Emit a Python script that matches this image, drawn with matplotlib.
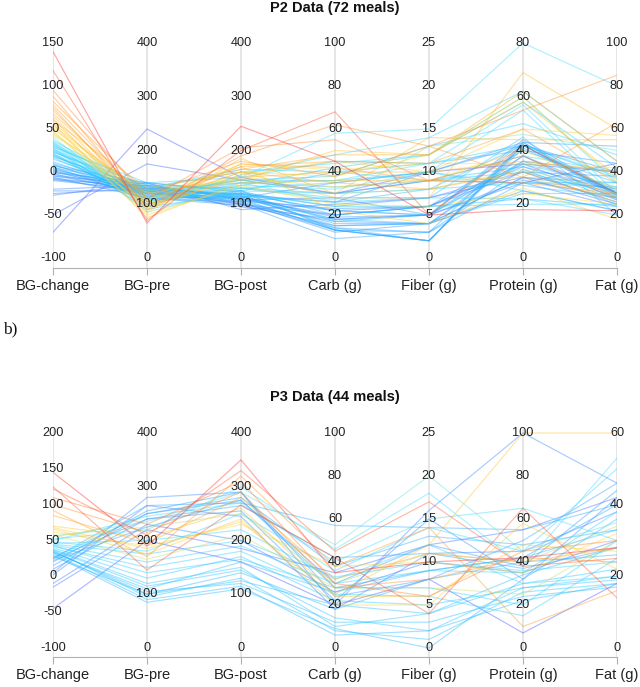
import matplotlib
matplotlib.use("Agg")
import matplotlib.pyplot as plt
from matplotlib.colors import LinearSegmentedColormap, Normalize
import numpy as np

categories = ["BG-change", "BG-pre", "BG-post", "Carb (g)", "Fiber (g)", "Protein (g)", "Fat (g)"]

# ---- P2 data: [BG-change, BG-pre, BG-post, Carb, Fiber, Protein, Fat]
p2_title = "P2 Data (72 meals)"
p2_ranges = [(-100, 150), (0, 400), (0, 400), (0, 100), (0, 25), (0, 80), (0, 100)]
p2_ticks = [[-100, -50, 0, 50, 100, 150], [0, 100, 200, 300, 400], [0, 100, 200, 300, 400],
            [0, 20, 40, 60, 80, 100], [0, 5, 10, 15, 20, 25], [0, 20, 40, 60, 80],
            [0, 20, 40, 60, 80, 100]]
p2_meals = [
    [140, 65, 245, 45, 5, 18, 22],
    [118, 70, 200, 68, 5, 42, 30],
    [95, 110, 205, 55, 9, 38, 28],
    [88, 95, 190, 62, 13, 55, 85],
    [82, 120, 180, 38, 13, 30, 63],
    [78, 105, 170, 45, 11, 48, 35],
    [75, 90, 175, 42, 9, 28, 30],
    [72, 100, 160, 35, 8, 32, 26],
    [68, 110, 165, 48, 12, 62, 45],
    [65, 95, 150, 40, 10, 36, 40],
    [62, 85, 185, 30, 14, 44, 55],
    [60, 130, 160, 28, 7, 69, 60],
    [58, 100, 145, 50, 12, 58, 38],
    [56, 75, 140, 36, 9, 30, 28],
    [54, 115, 170, 22, 4, 26, 18],
    [52, 90, 155, 45, 10, 48, 57],
    [50, 120, 150, 33, 9, 40, 32],
    [48, 80, 135, 25, 6, 24, 25],
    [46, 105, 175, 41, 11, 35, 42],
    [45, 95, 160, 38, 12, 60, 36],
    [43, 125, 145, 30, 8, 33, 30],
    [41, 85, 130, 27, 13, 46, 50],
    [38, 110, 150, 58, 15, 80, 80],
    [36, 130, 160, 44, 12, 60, 35],
    [35, 100, 140, 36, 11, 57, 30],
    [34, 120, 135, 32, 10, 55, 28],
    [33, 95, 155, 48, 14, 62, 45],
    [32, 115, 140, 26, 7, 22, 20],
    [31, 130, 165, 40, 9, 38, 40],
    [30, 105, 130, 35, 10, 25, 22],
    [29, 140, 150, 45, 11, 42, 38],
    [28, 90, 125, 30, 8, 28, 35],
    [27, 120, 145, 38, 13, 50, 48],
    [26, 110, 120, 24, 6, 20, 25],
    [25, 100, 135, 42, 12, 58, 42],
    [24, 125, 140, 33, 9, 32, 30],
    [23, 135, 130, 28, 7, 45, 20],
    [22, 95, 120, 22, 5, 35, 33],
    [21, 115, 145, 36, 10, 27, 28],
    [20, 105, 125, 40, 11, 40, 35],
    [19, 120, 110, 18, 4, 24, 30],
    [18, 130, 130, 30, 9, 34, 27],
    [17, 110, 115, 26, 8, 42, 37],
    [15, 125, 125, 20, 6, 22, 24],
    [12, 120, 120, 17, 5, 43, 30],
    [10, 130, 115, 15, 4, 36, 32],
    [9, 115, 110, 13, 3, 42, 28],
    [8, 125, 118, 14, 2, 41, 30],
    [7, 140, 125, 13, 2, 43, 29],
    [6, 110, 105, 14, 3, 28, 33],
    [5, 135, 112, 16, 4, 30, 35],
    [4, 120, 108, 13, 2, 42, 30],
    [3, 128, 120, 22, 5, 38, 27],
    [2, 115, 100, 9, 3, 33, 25],
    [1, 132, 116, 18, 5, 36, 40],
    [0, 125, 110, 20, 6, 40, 44],
    [-1, 140, 122, 24, 7, 32, 38],
    [-2, 118, 104, 12, 4, 30, 32],
    [-3, 130, 118, 26, 10, 43, 52],
    [-4, 122, 112, 35, 10, 42, 40],
    [-5, 138, 108, 28, 5, 44, 30],
    [-6, 112, 98, 15, 4, 25, 22],
    [-7, 128, 114, 19, 5, 29, 28],
    [-8, 120, 106, 23, 6, 34, 31],
    [-9, 134, 102, 13, 2, 42, 29],
    [-10, 126, 100, 17, 4, 38, 30],
    [-20, 135, 110, 22, 6, 35, 28],
    [-22, 125, 95, 18, 5, 28, 24],
    [-25, 130, 100, 20, 6, 32, 26],
    [-27, 140, 90, 25, 7, 30, 25],
    [-50, 175, 145, 30, 10, 35, 40],
    [-70, 240, 150, 30, 9, 28, 44],
]

# ---- P3 data
p3_title = "P3 Data (44 meals)"
p3_ranges = [(-100, 200), (0, 400), (0, 400), (0, 100), (0, 25), (0, 100), (0, 60)]
p3_ticks = [[-100, -50, 0, 50, 100, 150, 200], [0, 100, 200, 300, 400], [0, 100, 200, 300, 400],
            [0, 20, 40, 60, 80, 100], [0, 5, 10, 15, 20, 25], [0, 20, 40, 60, 80, 100],
            [0, 20, 40, 60]]
p3_meals = [
    [145, 190, 350, 35, 10, 42, 28],
    [125, 145, 266, 42, 4, 65, 14],
    [122, 210, 330, 45, 17, 38, 25],
    [110, 230, 310, 30, 6, 45, 30],
    [100, 215, 290, 28, 8, 42, 24],
    [92, 170, 320, 38, 14, 10, 16],
    [85, 195, 280, 32, 11, 40, 28],
    [70, 205, 260, 25, 12, 100, 60],
    [68, 185, 235, 24, 6, 48, 27],
    [66, 175, 240, 20, 5, 58, 22],
    [62, 190, 230, 38, 10, 35, 32],
    [58, 165, 210, 28, 7, 25, 30],
    [57, 225, 250, 30, 11, 40, 34],
    [55, 235, 290, 48, 20, 45, 35],
    [52, 220, 300, 46, 18, 38, 53],
    [50, 245, 270, 40, 15, 65, 30],
    [48, 180, 250, 36, 14, 45, 50],
    [46, 200, 220, 32, 12, 30, 20],
    [45, 175, 200, 33, 10, 36, 24],
    [44, 160, 190, 30, 9, 35, 38],
    [43, 140, 165, 28, 7, 20, 30],
    [42, 150, 180, 25, 6, 15, 25],
    [40, 130, 170, 22, 5, 28, 20],
    [38, 120, 150, 10, 4, 30, 22],
    [37, 115, 145, 14, 2, 28, 19],
    [36, 95, 130, 8, 1, 26, 18],
    [35, 100, 125, 20, 4, 34, 28],
    [34, 105, 120, 12, 3, 24, 17],
    [33, 110, 160, 26, 9, 42, 33],
    [32, 90, 115, 6, 2, 22, 18],
    [30, 85, 110, 9, 0, 32, 36],
    [28, 100, 140, 18, 8, 40, 26],
    [26, 250, 280, 38, 13, 48, 33],
    [25, 265, 270, 57, 14, 55, 40],
    [24, 240, 265, 42, 11, 37, 28],
    [22, 225, 275, 28, 9, 42, 40],
    [20, 255, 290, 24, 8, 50, 46],
    [15, 250, 275, 30, 12, 38, 44],
    [10, 240, 255, 22, 15, 32, 42],
    [5, 280, 290, 20, 16, 100, 46],
    [2, 265, 245, 18, 11, 45, 38],
    [-10, 230, 200, 26, 10, 35, 30],
    [-15, 220, 185, 35, 12, 55, 42],
    [-45, 200, 160, 20, 8, 7, 18],
]

plt.rcParams['font.family'] = ['Liberation Sans', 'DejaVu Sans']

cmap = LinearSegmentedColormap.from_list("bgc", [
    (0.0, "#4455ff"), (0.3, "#2f8cff"), (0.42, "#1ec0ff"), (0.52, "#40e0ff"),
    (0.55, "#ffd830"), (0.65, "#ffb020"), (0.8, "#ff8030"), (1.0, "#ff2a2a")])

W, H = 640, 687
fig = plt.figure(figsize=(W / 100, H / 100), dpi=100)


def panel(top_px, bottom_px, spine_px, title, title_px, ranges, ticks, meals):
    span = bottom_px - top_px
    ax_top_px = top_px - 4
    ax = fig.add_axes([53 / W, 1 - spine_px / H, (617 - 53) / W, (spine_px - ax_top_px) / H])
    ax.set_xlim(0, 6)
    ax.set_ylim(-(spine_px - bottom_px) / span, 1 + 4 / span)
    for s in ["top", "left", "right"]:
        ax.spines[s].set_visible(False)
    ax.spines["bottom"].set_color("#b0b0b0")
    ax.spines["bottom"].set_linewidth(0.8)
    ax.set_yticks([])
    ax.set_xticks(range(len(categories)))
    ax.set_xticklabels(categories, fontsize=10.5, color="#222222")
    ax.tick_params(axis="x", length=5, color="#b0b0b0", width=0.8, pad=3)
    for i in range(len(categories)):
        ax.axvline(i, color="#e2e2e2", lw=1.2, zorder=0)
    data = np.array(meals, dtype=float)
    norm = Normalize(data[:, 0].min(), data[:, 0].max())
    lo = np.array([r[0] for r in ranges], dtype=float)
    hi = np.array([r[1] for r in ranges], dtype=float)
    ys = (data - lo) / (hi - lo)
    order = np.argsort(data[:, 0])
    for k in order:
        ax.plot(range(len(categories)), ys[k], color=cmap(norm(data[k, 0])),
                lw=0.85, alpha=0.42, zorder=2)
    for i, tl in enumerate(ticks):
        for t in tl:
            ax.text(i, (t - lo[i]) / (hi[i] - lo[i]), str(t), ha="center", va="center",
                    fontsize=9.2, color="#222222", zorder=5)
    fig.text(335 / W, 1 - title_px / H, title, ha="center", va="center",
             fontsize=10.5, fontweight="bold", color="#111111")
    return ax


panel(43, 258, 268, p2_title, 8, p2_ranges, p2_ticks, p2_meals)
panel(433, 648, 657, p3_title, 397, p3_ranges, p3_ticks, p3_meals)
fig.text(3 / W, 1 - 329 / H, "b)", ha="left", va="center", fontsize=12.5,
         family=["Liberation Serif", "DejaVu Serif"], color="#111111")

fig.savefig("out.png", dpi=100)
